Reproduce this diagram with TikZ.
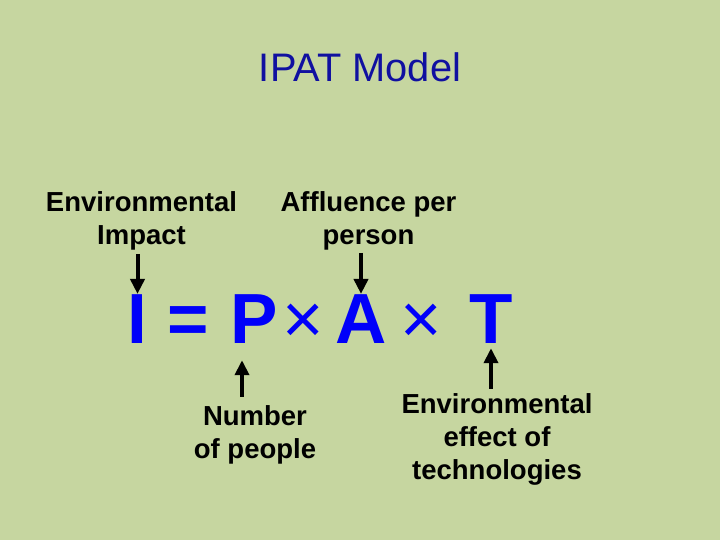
\documentclass[tikz,border=0pt]{standalone}
\usepackage{fontspec}
\setmainfont{Liberation Sans}
\usetikzlibrary{arrows.meta,calc}
\definecolor{bg}{RGB}{198,214,160}
\definecolor{titleblue}{RGB}{16,16,160}
\definecolor{eqblue}{RGB}{0,0,250}
\begin{document}
\begin{tikzpicture}[x=1pt,y=-1pt,
  lbl/.style={inner sep=0pt,align=center,anchor=base,
    font=\bfseries\fontsize{27.5}{33}\selectfont},
  glyph/.style={inner sep=0pt,anchor=base,text=eqblue,
    font=\bfseries\fontsize{71}{80}\selectfont},
  times/.style={glyph,font=\fontsize{71}{80}\selectfont},
  arr/.style={line width=4pt,-{Triangle[width=14pt,length=15pt]}}]
\fill[bg] (0,0) rectangle (720,540);
\useasboundingbox (0,0) rectangle (720,540);
\node[inner sep=0pt,anchor=base,text=titleblue,font=\fontsize{39.8}{45}\selectfont] (title) at (360,82) {IPAT Model};
\node[lbl] (envimp) at (141.5,244) {Environmental\\Impact};
\node[lbl] (aff) at (368.5,244) {Affluence per\\person};
\node[lbl] (num) at (255,458) {Number\\of people};
\node[lbl] (tech) at (497,479) {Environmental\\effect of\\technologies};
\node[glyph] (I) at (137.5,343) {I};
\node[glyph] (eq) at (188.5,343) {=};
\node[glyph] (P) at (254,343) {P};
\node[times] (x1) at (303.5,343) {×};
\node[glyph] (A) at (361,343) {A};
\node[times] (x2) at (421.5,343) {×};
\node[glyph] (T) at (491,343) {T};
\coordinate (Ptip) at ([xshift=-12pt,yshift=-17pt]P.south);
\coordinate (Ttip) at ([yshift=-5pt]T.south);
\draw[arr,shorten <=4pt] (envimp.south -| I.north) -- (I.north);
\draw[arr,shorten <=3pt] (aff.south -| A.north) -- (A.north);
\draw[arr,shorten <=8pt] (num.north -| Ptip) -- (Ptip);
\draw[arr,shorten <=4pt] (tech.north -| Ttip) -- (Ttip);
\end{tikzpicture}
\end{document}
